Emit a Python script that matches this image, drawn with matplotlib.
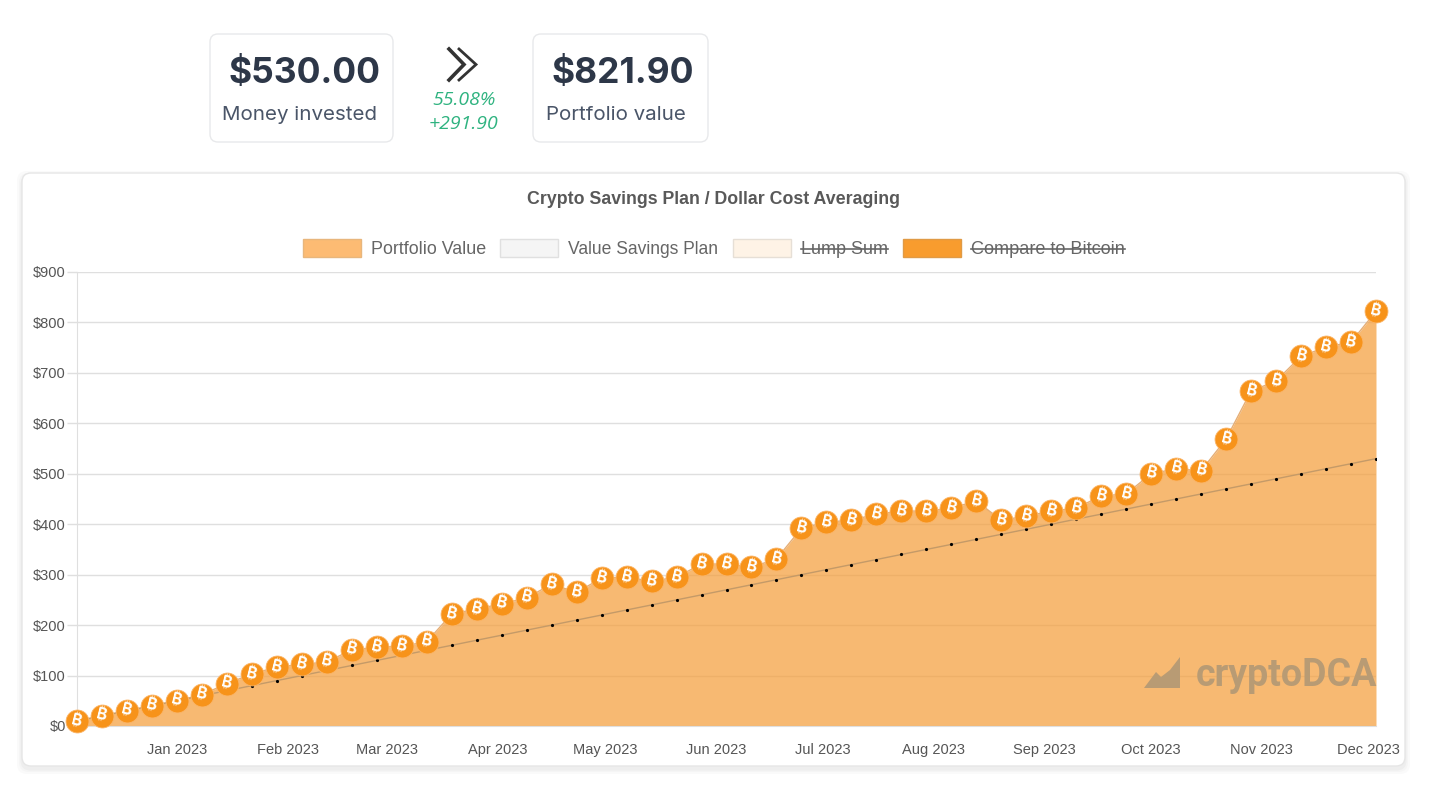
import numpy as np
import matplotlib.pyplot as plt
import matplotlib.dates as mdates
import matplotlib.ticker as ticker
from matplotlib.patches import FancyBboxPatch, Rectangle, Polygon

"""
weekly savings plan, 10 dollars every week, against the value of the portfolio

"""

portfolio=[10,20,30,40,50,62,84,103,117,122,127,151,156,158,167,222,232,242,254,281,
	265,293,295,287,295,321,321,315,331,392,404,408,420,426,426,432,446,408,416,426,
	432,456,460,500,510,506,569,664,684,733,751,761,822]
saved=[10*(i+1) for i in range(53)]
dates=np.arange(np.datetime64('2022-12-04'),np.datetime64('2023-12-04'),np.timedelta64(7,'D'))

# Set global font sizes using rcParams
plt.rcParams.update({
    'font.family': ['Liberation Sans','DejaVu Sans'],
    'font.size': 11,            # General text size
    'xtick.labelsize': 10.5,    # X-axis tick labels
    'ytick.labelsize': 10.5,    # Y-axis tick labels
    'xtick.color': '#555555',
    'ytick.color': '#555555',
})

fig=plt.figure()
fig.set_size_inches(14.56, 7.91)

# background in pixels of the picture, for the cards and the legend
bg=plt.axes([0,0,1,1])
bg.set_xlim(0,1456)
bg.set_ylim(791,0)
bg.axis('off')

# soft shadow of the chart card
for grow,shade in [(5,'#fafafa'),(3,'#f5f5f5'),(1.5,'#eeeeee')]:
	bg.add_patch(FancyBboxPatch((22-grow,173-grow+3),1383+2*grow,593+2*grow,boxstyle='round,pad=0,rounding_size=10',fc=shade,ec='none'))
bg.add_patch(FancyBboxPatch((22,173),1383,593,boxstyle='round,pad=0,rounding_size=9',fc='white',ec='#e6e6e6',lw=1))

# the two cards on top
bg.add_patch(FancyBboxPatch((210,34),183,108,boxstyle='round,pad=0,rounding_size=8',fc='white',ec='#e8e9eb',lw=1))
bg.add_patch(FancyBboxPatch((533,34),175,108,boxstyle='round,pad=0,rounding_size=8',fc='white',ec='#e8e9eb',lw=1))
bg.text(305,74,'$530.00',fontsize=25.5,fontweight='bold',family='Inter',color='#2d3748',ha='center',va='center')
bg.text(623,74,'$821.90',fontsize=25.5,fontweight='bold',family='Inter',color='#2d3748',ha='center',va='center')
bg.text(300,114.5,'Money invested',fontsize=14.8,family='Inter',color='#4a5568',ha='center',va='center')
bg.text(616,114.5,'Portfolio value',fontsize=14.8,family='Inter',color='#4a5568',ha='center',va='center')
bg.text(464,100,'55.08%',fontsize=14,style='italic',family='Open Sans',color='#2fb380',ha='center',va='center')
bg.text(464,124,'+291.90',fontsize=14,style='italic',family='Open Sans',color='#2fb380',ha='center',va='center')
bg.plot([449,464,449],[49,64.5,80],color='#333333',lw=2.6,solid_joinstyle='miter')
bg.plot([459,476,459],[49,64.5,80],color='#333333',lw=2,solid_joinstyle='miter')

bg.text(713.5,200,'Crypto Savings Plan / Dollar Cost Averaging',fontsize=12.75,fontweight='bold',color='#595959',ha='center',va='center')

# legend, two of the series are switched off and struck through
legend=[(303,'#fdbb73','#e8b67c','Portfolio Value',371,12.85,False),
	(500,'#f5f5f5','#e0e0e0','Value Savings Plan',568,12.65,False),
	(733,'#fef3e6','#e6dfd6','Lump Sum',801,12.95,True),
	(903,'#f89c2e','#e09a45','Compare to Bitcoin',971,13.05,True)]
for x,fc,ec,label,xt,size,off in legend:
	bg.add_patch(Rectangle((x,239),58,18,fc=fc,ec=ec,lw=1))
	t=bg.text(xt,250,label,fontsize=size,color='#666666',ha='left',va='center')
	if off:
		box=t.get_window_extent(fig.canvas.get_renderer())
		bg.plot([xt,xt+box.width],[248.5,248.5],color='#666666',lw=1.2)

# the chart
ax=plt.axes([77/1456,1-726/791,1299/1456,454/791])
ax.patch.set_alpha(0)
plt.fill_between(dates,portfolio,color='#f59f3c',alpha=0.72,lw=0,zorder=2)
plt.plot(dates,portfolio,color='#e5ae76',lw=1,zorder=3)
plt.plot(dates,saved,color='#c49a68',lw=1,zorder=4)
plt.plot(dates,saved,ls='',marker='o',ms=2.3,mfc='Black',mec='Black',mew=0,zorder=4)
plt.plot(dates,portfolio,ls='',marker='o',ms=16.5,mfc='#f7931a',mec='#fbb568',mew=0.6,zorder=5,clip_on=False)
for i in range(len(dates)):
	plt.text(dates[i],portfolio[i],'\u20bf',fontsize=11.5,fontweight='bold',color='White',family=['Inter','Noto Sans','Roboto','Open Sans','Lato','DejaVu Sans'],rotation=-14,rotation_mode='anchor',ha='center',va='center',zorder=6,clip_on=False)

plt.xlim(dates[0],dates[-1])
plt.ylim(0,900)
plt.gca().xaxis.set_major_locator(mdates.MonthLocator())
plt.gca().xaxis.set_major_formatter(mdates.DateFormatter('%b %Y'))
plt.gca().yaxis.set_major_locator(ticker.MultipleLocator(100))
plt.gca().yaxis.set_major_formatter(ticker.StrMethodFormatter('${x:.0f}'))
plt.tick_params(axis='x', length=0, pad=12)
plt.tick_params(axis='y', length=7, width=1, color='#dfdfdf', pad=1)
plt.grid(axis='y', color='#dfdfdf', linewidth=1, zorder=1)
plt.gca().set_axisbelow(True)
for side in ['top','right']:
	plt.gca().spines[side].set_visible(False)
plt.gca().spines['left'].set_color('#dfdfdf')
plt.gca().spines['bottom'].set_color('#dfdfdf')

# watermark
bg2=plt.axes([0,0,1,1])
bg2.set_xlim(0,1456)
bg2.set_ylim(791,0)
bg2.axis('off')
bg2.add_patch(Polygon([(1144,688),(1156,672),(1161,677),(1170,670),(1180,657),(1180,688)],fc='#b89b74',ec='none',zorder=7))
bg2.text(1377,675,'cryptoDCA',fontsize=27,fontweight='bold',family='Roboto',color='#b89b74',ha='right',va='center',zorder=7)

fig.savefig('out.png',dpi=100)
